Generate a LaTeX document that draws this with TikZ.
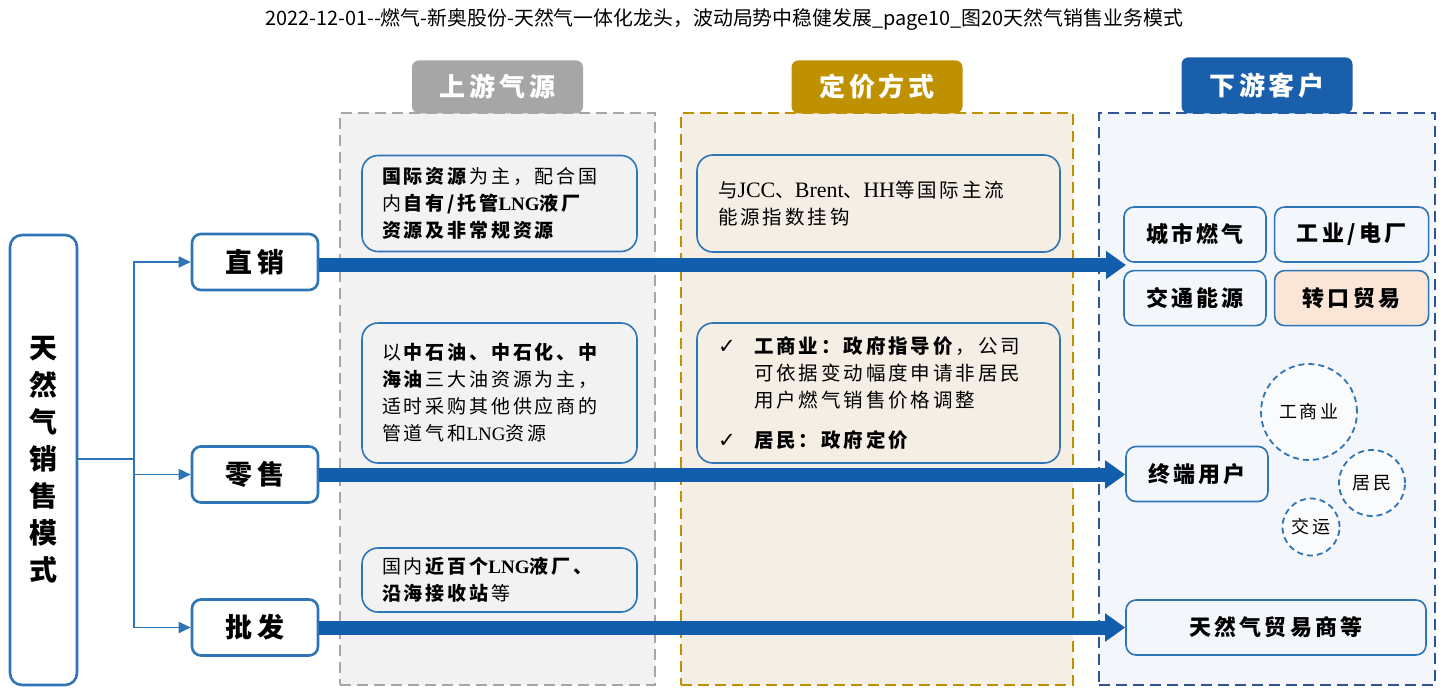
\documentclass[tikz,border=0pt]{standalone}
\usepackage{fontspec}
\setmainfont{Noto Sans CJK SC}[LetterSpace=15]
\newfontfamily\ttlfont{Noto Sans CJK SC}
\newfontfamily\latfont{Liberation Serif}
\newfontfamily\symfont{DejaVu Sans}
\usepackage{tikz}
\usetikzlibrary{positioning,arrows.meta}
\definecolor{lineblue}{HTML}{2E75B6}
\definecolor{barblue}{HTML}{125EAC}
\definecolor{upgrey}{HTML}{A6A6A6}
\definecolor{upfill}{HTML}{F2F2F2}
\definecolor{pricegold}{HTML}{BF9000}
\definecolor{pricefill}{HTML}{F4EEE4}
\definecolor{downblue}{HTML}{2F5597}
\definecolor{downtab}{HTML}{1A5FAB}
\definecolor{downfill}{HTML}{F3F6FA}
\definecolor{peach}{HTML}{FBE5D6}
\newcommand{\chk}{\makebox[36pt][l]{\symfont\fontsize{21}{20}\selectfont ✓}}
\tikzset{
  sm/.style={align=center, inner sep=0pt},
  sm col/.style={sm, dash pattern=on 11pt off 6pt, line width=2.9pt, minimum height=572pt},
  sm tab/.style={sm, rounded corners=7pt, text=white, font=\fontsize{26}{30}\selectfont\bfseries,
                 minimum width=171pt, minimum height=53pt},
  sm txt/.style={rounded corners=16pt, draw=lineblue, line width=1.6pt, align=left, inner ysep=0pt,
                 font=\fontsize{19}{27}\selectfont},
  sm mode/.style={sm, rounded corners=9pt, draw=lineblue, line width=2.6pt, fill=white,
                  minimum width=126pt, minimum height=56pt, font=\fontsize{27}{30}\selectfont\bfseries},
  sm cus/.style={sm, rounded corners=10pt, draw=lineblue, line width=1.6pt, minimum height=55pt,
                 font=\fontsize{22}{26}\selectfont\bfseries},
  sm ring/.style={sm, circle, draw=lineblue, dash pattern=on 6pt off 4pt, line width=1.8pt,
                  fill=white!55!downfill, font=\fontsize{18}{20}\selectfont},
  sm br/.style={-{Triangle[length=12pt, width=11pt]}, line width=1.8pt, lineblue},
  sm fat/.style={-{Triangle[length=20pt, width=27pt]}, line width=14pt, barblue},
}

\begin{document}
\begin{tikzpicture}[x=1pt, y=-1pt,
  up box/.style={sm txt, fill=upfill, text width=235pt, inner xsep=20pt},
  pr box/.style={sm txt, fill=pricefill, text width=321pt, inner xsep=21pt,
                 font=\fontsize{19.5}{27}\selectfont}]
  \useasboundingbox (0,0) rectangle (1449,697);
  \node[font=\ttlfont\fontsize{19.9}{20}\selectfont] (ttl) at (724,20)
    {2022-12-01--燃气-新奥股份-天然气一体化龙头，波动局势中稳健发展\_page10\_图20天然气销售业务模式};
  % three columns with their tabs
  \node[sm col, draw=upgrey, fill=upfill, minimum width=315pt] (up) at (497.5,399) {};
  \node[sm col, draw=pricegold, fill=pricefill, minimum width=392pt] (pr) at (877,399) {};
  \node[sm col, draw=downblue, fill=downfill, minimum width=336pt] (dn) at (1267,399) {};
  \node[sm tab, fill=upgrey, above=-2pt of up] (upt) {上游气源};
  \node[sm tab, fill=pricegold, above=-2pt of pr] (prt) {定价方式};
  \node[sm tab, fill=downtab, above=-2pt of dn, minimum height=56pt] (dnt) {下游客户};
  % sales modes
  \node[sm, rounded corners=12pt, draw=lineblue, line width=2.6pt, fill=white, minimum width=67pt,
        minimum height=450pt, font=\fontsize{28}{37}\selectfont\bfseries] (src) at (43.5,460)
        {天\\然\\气\\销\\售\\模\\式};
  \node[sm mode] (zx) at (255,262) {直销};
  \node[sm mode] (ls) at (255,474.5) {零售};
  \node[sm mode] (pf) at (255,627.5) {批发};
  % upstream
  \node[up box, minimum height=96pt] (a1) at (499.5,203.5)
    {\textbf{国际资源}为主，配合国\\内\textbf{自有/托管{\latfont LNG}液厂}\\\textbf{资源及非常规资源}};
  \node[up box, minimum height=140pt] (a2) at (499.5,393)
    {以\textbf{中石油、中石化、中}\\\textbf{海油}三大油资源为主，\\适时采购其他供应商的\\管道气和{\latfont LNG}资源};
  \node[up box, minimum height=64pt] (a3) at (499.5,580)
    {国内\textbf{近百个{\latfont LNG}液厂、}\\\textbf{沿海接收站}等};
  % pricing
  \node[pr box, minimum height=97pt] (b1) at (878.5,203.5)
    {与{\latfont\fontsize{22}{27}\selectfont JCC}、{\latfont\fontsize{22}{27}\selectfont Brent}、{\latfont\fontsize{22}{27}\selectfont HH}等国际主流\\能源指数挂钩};
  \node[pr box, minimum height=140pt] (b2) at (878.5,393)
    {\chk\textbf{工商业：政府指导价}，公司\\\hspace*{36pt}可依据变动幅度申请非居民\\\hspace*{36pt}用户燃气销售价格调整\\[13pt]\chk\textbf{居民：政府定价}};
  % downstream
  \node[sm cus, minimum width=142pt] (cs) at (1195,234.5) {城市燃气};
  \node[sm cus, minimum width=154pt, right=7pt of cs] (gy) {工业/电厂};
  \node[sm cus, minimum width=142pt, below=7pt of cs] (jt) {交通能源};
  \node[sm cus, minimum width=154pt, fill=peach, right=7pt of jt] (zk) {转口贸易};
  \node[sm cus, minimum width=142pt] (zd) at (1197,474) {终端用户};
  \node[sm cus, minimum width=300pt] (ms) at (1276,627.5) {天然气贸易商等};
  \node[sm ring, minimum size=96pt] (q1) at (1309,412) {工商业};
  \node[sm ring, minimum size=66pt] (q2) at (1372,483) {居民};
  \node[sm ring, minimum size=57pt] (q3) at (1311,527) {交运};
  % connectors
  \coordinate (fork) at (134,459);
  \coordinate (zxend) at (1126,265);
  \draw[line width=1.8pt, lineblue] (src.east |- fork) -- (fork);
  \foreach \m in {zx,ls,pf} \draw[sm br] (fork) |- (\m.west);
  \draw[sm fat] (zx.east |- zxend) -- (zxend);
  \draw[sm fat] (ls.east) -- (ls.east -| zd.west);
  \draw[sm fat] (pf.east) -- (pf.east -| ms.west);
\end{tikzpicture}
\end{document}
